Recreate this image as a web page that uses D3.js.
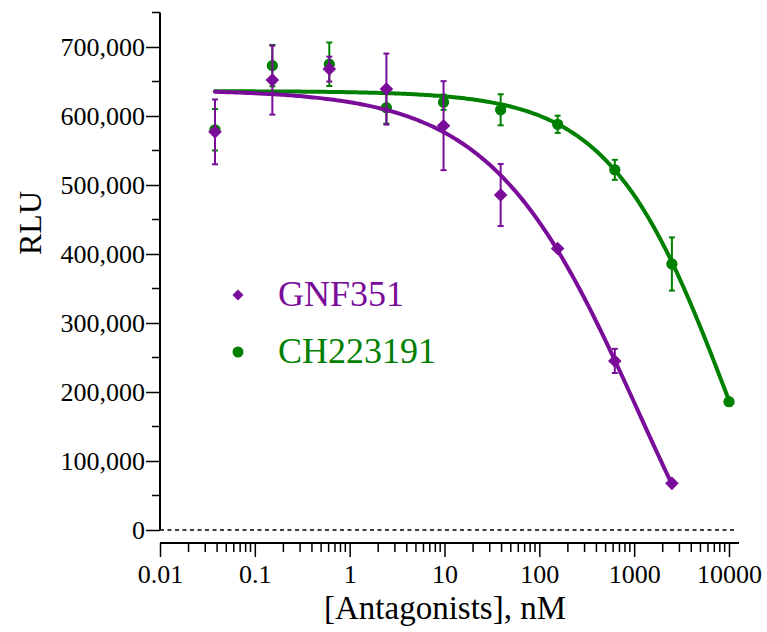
<!DOCTYPE html>
<html>
<head>
<meta charset="utf-8">
<script src="https://cdn.jsdelivr.net/npm/d3@7"></script>
<style>
  html, body { margin: 0; padding: 0; background: #fff; }
  svg { display: block; }
  text { font-family: "Liberation Serif", "Times New Roman", serif; }
</style>
</head>
<body>
<svg id="chart" width="767" height="632"></svg>
<script>
// ---------- data ----------
const conc = [0.038, 0.153, 0.61, 2.44, 9.77, 39.1, 156, 625, 2500, 10000];
const seriesNames = ["GNF351", "CH223191"];
const gnfMean = [577000, 652000, 668000, 639000, 586000, 485500, 408000, 245000, 67600];
const gnfErr  = [47000, 50000, 18000, 51500, 64500, 45000, 0, 17500, 0];
const chMean  = [580000, 673000, 675000, 612000, 620000, 609000, 588000, 522000, 385500, 186000];
const chErr   = [30000, 30000, 31500, 23000, 11000, 22500, 12500, 14500, 38500, 0];
// four-parameter logistic fit parameters: [top, bottom, IC50 (nM), Hill slope]
const gnfFit = [638000, -300000, 1129, 0.56];
const chFit  = [636000, -270000, 10305, 0.69];
const yTicks = [0, 100000, 200000, 300000, 400000, 500000, 600000, 700000];
const xTicks = [0.01, 0.1, 1, 10, 100, 1000, 10000];
const xTickLabels = ["0.01", "0.1", "1", "10", "100", "1000", "10000"];

const purple = "#7a0c9a";
const green = "#008000";

// ---------- setup ----------
const svg = d3.select("#chart");
const x = d3.scaleLog().domain([0.01, 10000]).range([160, 729]);
const y = d3.scaleLinear().domain([0, 750000]).range([530, 12.5]);
const xAxisY = 543;

// Y axis
const yMinor = d3.range(50000, 750001, 100000);
const yAx = svg.append("g").attr("transform", "translate(160,0)");
yAx.call(d3.axisLeft(y).tickValues(yTicks).tickSize(14).tickFormat(d3.format(",")).tickSizeOuter(0))
  .call(g => g.select(".domain").remove());
yAx.selectAll(".tick line").attr("stroke", "#000").attr("stroke-width", 1.5);
yAx.selectAll(".tick text").attr("font-size", 26).attr("fill", "#000").attr("x", -15)
  .attr("font-family", "Liberation Serif, serif");
yAx.append("g").selectAll("line").data(yMinor).join("line")
  .attr("x1", -8).attr("x2", 0).attr("y1", d => y(d)).attr("y2", d => y(d))
  .attr("stroke", "#000").attr("stroke-width", 1.5);
yAx.append("line").attr("x1", 0).attr("x2", 0).attr("y1", y(750000)).attr("y2", y(0))
  .attr("stroke", "#000").attr("stroke-width", 2);

// X axis
const xMinor = [];
[0.01, 0.1, 1, 10, 100, 1000].forEach(dec => { for (let k = 2; k <= 9; k++) xMinor.push(dec * k); });
const xAx = svg.append("g").attr("transform", `translate(0,${xAxisY})`);
xAx.call(d3.axisBottom(x).tickValues(xTicks).tickSize(14).tickFormat((d, i) => xTickLabels[i]).tickSizeOuter(0))
  .call(g => g.select(".domain").remove());
xAx.selectAll(".tick line").attr("stroke", "#000").attr("stroke-width", 1.5);
xAx.selectAll(".tick text").attr("font-size", 26).attr("fill", "#000").attr("y", 22)
  .attr("font-family", "Liberation Serif, serif");
xAx.append("g").selectAll("line").data(xMinor).join("line")
  .attr("x1", d => x(d)).attr("x2", d => x(d)).attr("y1", 0).attr("y2", 9)
  .attr("stroke", "#000").attr("stroke-width", 1.5);
xAx.append("line").attr("x1", x(0.01)).attr("x2", 739).attr("y1", 0).attr("y2", 0)
  .attr("stroke", "#000").attr("stroke-width", 2);

// zero dashed line
svg.append("line").attr("x1", x(0.01)).attr("x2", 735).attr("y1", y(0)).attr("y2", y(0))
  .attr("stroke", "#000").attr("stroke-width", 1.5).attr("stroke-dasharray", "4,3.5");

// axis titles
svg.append("text").attr("transform", "translate(41,223) rotate(-90)")
  .attr("text-anchor", "middle").attr("font-size", 32).text("RLU");
svg.append("text").attr("x", 445).attr("y", 619)
  .attr("text-anchor", "middle").attr("font-size", 33).text("[Antagonists], nM");

// ---------- series ----------
function logistic(p, c) { return p[1] + (p[0] - p[1]) / (1 + Math.pow(c / p[2], p[3])); }
function drawSeries(means, errs, fit, color, shape) {
  const n = means.length;
  const lo = Math.log10(conc[0]), hi = Math.log10(conc[n - 1]);
  const pts = d3.range(0, 201).map(i => Math.pow(10, lo + (hi - lo) * i / 200));
  const line = d3.line().x(d => x(d)).y(d => y(logistic(fit, d)));
  svg.append("path").datum(pts).attr("d", line).attr("fill", "none")
    .attr("stroke", color).attr("stroke-width", 4).attr("stroke-linecap", "round");
  const data = means.map((m, i) => ({ c: conc[i], m, e: errs[i] }));
  const eb = svg.append("g").attr("stroke", color).attr("stroke-width", 2);
  data.filter(d => d.e > 0).forEach(d => {
    const cx = x(d.c);
    eb.append("line").attr("x1", cx).attr("x2", cx).attr("y1", y(d.m - d.e)).attr("y2", y(d.m + d.e));
    eb.append("line").attr("x1", cx - 3).attr("x2", cx + 3).attr("y1", y(d.m - d.e)).attr("y2", y(d.m - d.e));
    eb.append("line").attr("x1", cx - 3).attr("x2", cx + 3).attr("y1", y(d.m + d.e)).attr("y2", y(d.m + d.e));
  });
  const sym = shape === "diamond"
    ? d3.symbol().type(d3.symbolSquare).size(92)
    : d3.symbol().type(d3.symbolCircle).size(100);
  svg.append("g").selectAll("path").data(data).join("path")
    .attr("d", sym)
    .attr("transform", d => `translate(${x(d.c)},${y(d.m)})` + (shape === "diamond" ? " rotate(45)" : ""))
    .attr("fill", color);
}
drawSeries(chMean, chErr, chFit, green, "circle");
drawSeries(gnfMean, gnfErr, gnfFit, purple, "diamond");

// ---------- legend ----------
const leg = svg.append("g");
leg.append("path").attr("d", d3.symbol().type(d3.symbolSquare).size(60))
  .attr("transform", "translate(238,295) rotate(45)").attr("fill", purple);
leg.append("text").attr("x", 278).attr("y", 306).attr("font-size", 36).attr("fill", purple).text(seriesNames[0]);
leg.append("path").attr("d", d3.symbol().type(d3.symbolCircle).size(95))
  .attr("transform", "translate(238,352)").attr("fill", green);
leg.append("text").attr("x", 278).attr("y", 363).attr("font-size", 36).attr("fill", green).text(seriesNames[1]);
</script>
</body>
</html>
